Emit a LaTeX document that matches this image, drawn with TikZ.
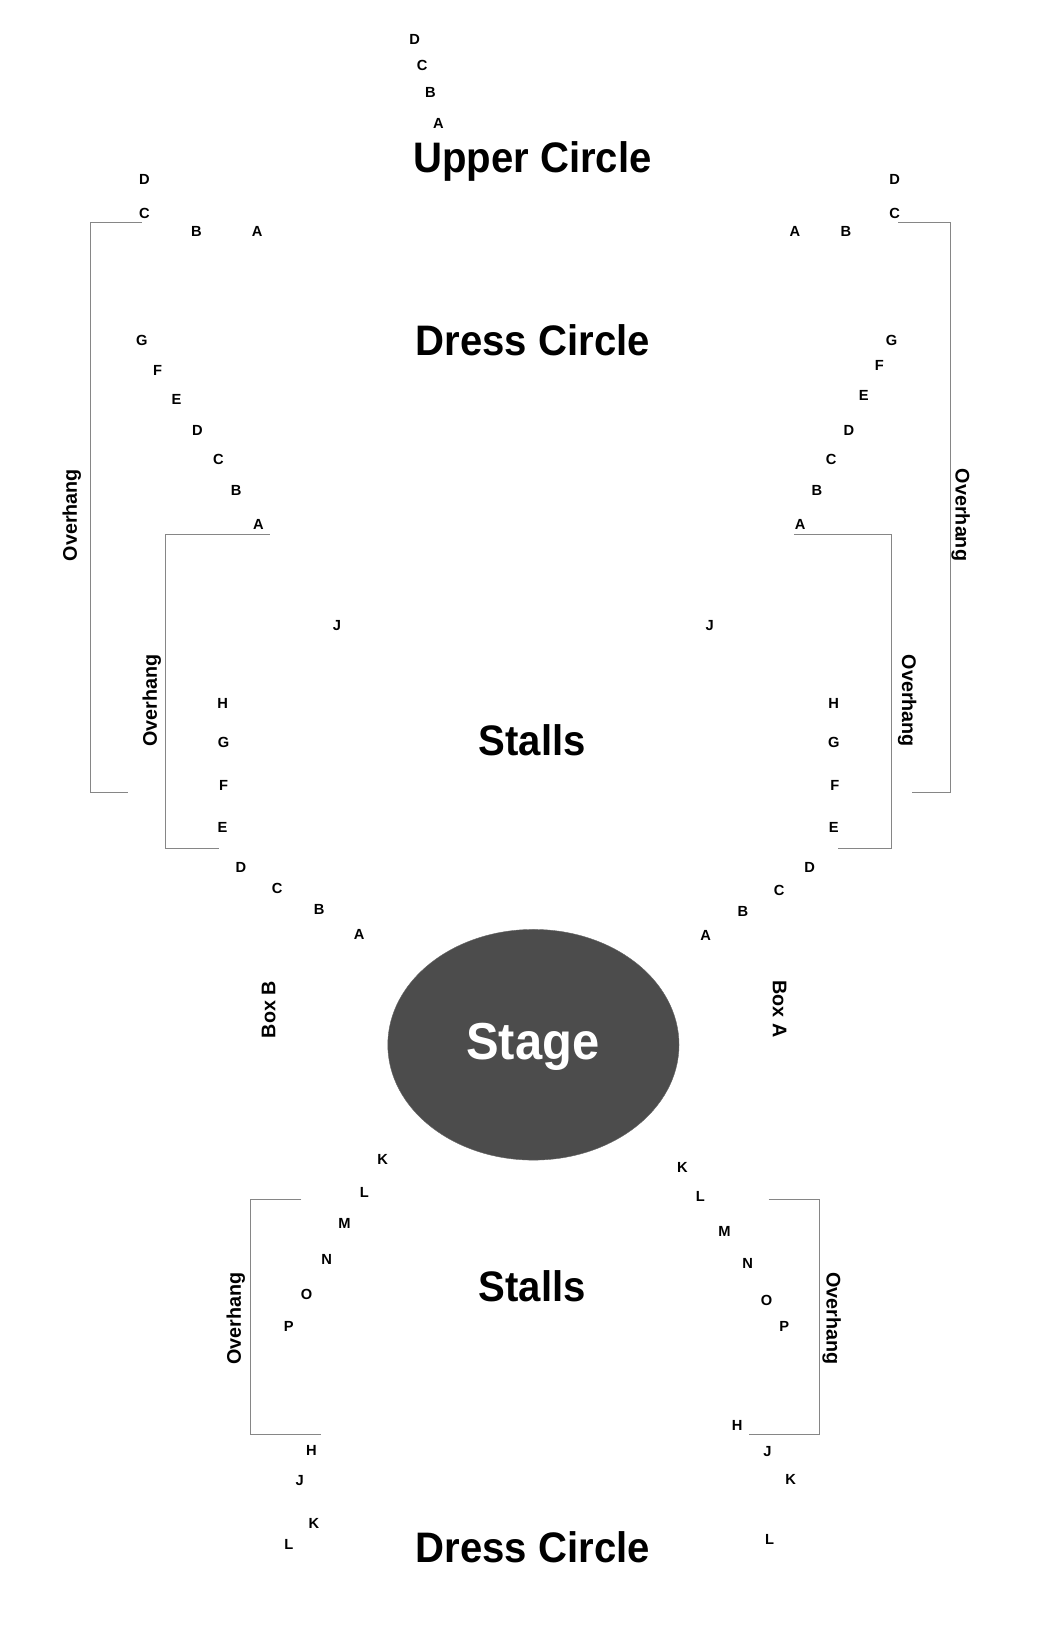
\documentclass[tikz,border=0pt]{standalone}
\usepackage{fontspec}
\usetikzlibrary{shapes.geometric}
\setmainfont{Liberation Sans}
\newcommand{\narrowtitle}[1]{\scalebox{0.94}[1]{#1}}
\tikzset{
  seat/.style={font=\fontsize{11pt}{11pt}\selectfont\bfseries,inner sep=0pt,text=black},
  side/.style={font=\fontsize{14.8pt}{15pt}\selectfont\bfseries,inner sep=0pt,text=black},
  big/.style={font=\fontsize{32pt}{32pt}\selectfont\bfseries,inner sep=0pt,text=black},
  bracket/.style={draw=gray!95,line width=0.6pt},
}
\begin{document}
\begin{tikzpicture}[x=0.7875pt,y=-0.7875pt]
\useasboundingbox (0,0) rectangle (1000,1567.6);
% stage
\node[ellipse,draw=black!60,line width=0.3pt,fill=black!70,minimum width=218.4pt,minimum height=173pt,inner sep=0pt] (stageshape) at (508,995) {};
\node[font=\fontsize{39pt}{39pt}\selectfont\bfseries,text=white,inner sep=0pt] (stage) at (507.5,997) {\narrowtitle{Stage}};
% titles
\node[big] (upper) at (507,154) {\narrowtitle{Upper Circle}};
\node[big] (dress) at (507.5,324) {\narrowtitle{Dress Circle}};
\node[big] (stalls) at (507,705) {\narrowtitle{Stalls}};
\node[big] (stallsb) at (507,1225) {\narrowtitle{Stalls}};
\node[big] (dressb) at (507.5,1474) {\narrowtitle{Dress Circle}};
% brackets
\draw[bracket] (135,211.4) -- (86.3,211.4) -- (86.3,754.4) -- (122,754.4);
\draw[bracket] (855.5,211.4) -- (905,211.4) -- (905,754.4) -- (869,754.4);
\draw[bracket] (257,509) -- (157.5,509) -- (157.5,808) -- (209,808);
\draw[bracket] (756,509) -- (849.3,509) -- (849.3,808) -- (798,808);
\draw[bracket] (287,1142.3) -- (238.5,1142.3) -- (238.5,1366) -- (306,1366);
\draw[bracket] (732,1142.3) -- (780.3,1142.3) -- (780.3,1366) -- (713,1366);
% side labels
\node[side,rotate=90] (oh1) at (68.5,490.5) {Overhang};
\node[side,rotate=-90] (oh2) at (915,490.5) {Overhang};
\node[side,rotate=90] (oh3) at (144.5,667.5) {Overhang};
\node[side,rotate=-90] (oh4) at (864,667.5) {Overhang};
\node[side,rotate=90] (oh5) at (224.5,1255.5) {Overhang};
\node[side,rotate=-90] (oh6) at (792,1255.5) {Overhang};
\node[side,rotate=90] (boxb) at (256,961.5) {Box B};
\node[side,rotate=-90] (boxa) at (742.5,961) {Box A};
% upper circle
\node[seat] (u1) at (395,37.5) {D};
\node[seat] (u2) at (402,62) {C};
\node[seat] (u3) at (410,88) {B};
\node[seat] (u4) at (417.5,118) {A};
% dress circle top
\node[seat] (a1) at (137.5,170.5) {D};
\node[seat] (a2) at (137.5,203.5) {C};
\node[seat] (a3) at (187,220.5) {B};
\node[seat] (a4) at (245,220.5) {A};
\node[seat] (b1) at (852,170.5) {D};
\node[seat] (b2) at (852,203.5) {C};
\node[seat] (b3) at (805.5,220.5) {B};
\node[seat] (b4) at (757,220.5) {A};
\node[seat] (c1) at (135,324.5) {G};
\node[seat] (c2) at (150,352.5) {F};
\node[seat] (c3) at (168,380) {E};
\node[seat] (c4) at (188,409.5) {D};
\node[seat] (c5) at (208,437.5) {C};
\node[seat] (c6) at (225,467.5) {B};
\node[seat] (c7) at (246,499) {A};
\node[seat] (d1) at (849,324.5) {G};
\node[seat] (d2) at (837.5,348) {F};
\node[seat] (d3) at (822.5,377) {E};
\node[seat] (d4) at (808.5,409.5) {D};
\node[seat] (d5) at (791.5,437.5) {C};
\node[seat] (d6) at (778,467.5) {B};
\node[seat] (d7) at (762,499) {A};
% stalls
\node[seat] (e1) at (321,595.5) {J};
\node[seat] (e2) at (676,595.5) {J};
\node[seat] (f1) at (212,670) {H};
\node[seat] (f2) at (213,707) {G};
\node[seat] (f3) at (213,748) {F};
\node[seat] (f4) at (212,788) {E};
\node[seat] (g1) at (794,670) {H};
\node[seat] (g2) at (794,707) {G};
\node[seat] (g3) at (795,748) {F};
\node[seat] (g4) at (794,788) {E};
\node[seat] (h1) at (229.5,826) {D};
\node[seat] (h2) at (264,846) {C};
\node[seat] (h3) at (304,866) {B};
\node[seat] (h4) at (342,890) {A};
\node[seat] (i1) at (771,826) {D};
\node[seat] (i2) at (742,848) {C};
\node[seat] (i3) at (707.5,868) {B};
\node[seat] (i4) at (672,890.5) {A};
% lower stalls
\node[seat] (j1) at (364.5,1104.5) {K};
\node[seat] (j2) at (347,1135.5) {L};
\node[seat] (j3) at (328,1165.5) {M};
\node[seat] (j4) at (311,1199) {N};
\node[seat] (j5) at (292,1232.5) {O};
\node[seat] (j6) at (275,1263.5) {P};
\node[seat] (k1) at (650,1111.5) {K};
\node[seat] (k2) at (667,1139) {L};
\node[seat] (k3) at (690,1173) {M};
\node[seat] (k4) at (712,1203) {N};
\node[seat] (k5) at (730,1238.5) {O};
\node[seat] (k6) at (747,1263.5) {P};
% lower dress circle
\node[seat] (l1) at (296.5,1381.5) {H};
\node[seat] (l2) at (285.5,1410) {J};
\node[seat] (l3) at (299,1450.5) {K};
\node[seat] (l4) at (275,1470.5) {L};
\node[seat] (m1) at (702,1357.5) {H};
\node[seat] (m2) at (731,1382.5) {J};
\node[seat] (m3) at (753,1408.5) {K};
\node[seat] (m4) at (733,1466.5) {L};
\end{tikzpicture}
\end{document}
